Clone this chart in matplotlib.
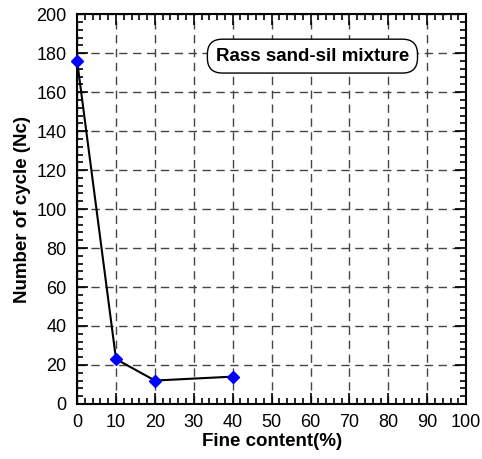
import numpy as np
import matplotlib.pyplot as plt
from matplotlib.ticker import MultipleLocator

plt.rcParams['font.family'] = ['Liberation Sans', 'DejaVu Sans']

# data
fines = [0, 10, 20, 40]
cycles = [176, 23, 12, 14]

fig = plt.figure(figsize=(4.82, 4.59), dpi=100)
ax = fig.add_axes([0.160, 0.120, 0.807, 0.849])

ax.plot(fines, cycles, color='black', lw=1.5, marker='D', ms=6,
        mfc='blue', mec='blue', zorder=5, clip_on=False)

ax.set_xlim(0, 100)
ax.set_ylim(0, 200)
ax.xaxis.set_major_locator(MultipleLocator(10))
ax.xaxis.set_minor_locator(MultipleLocator(2))
ax.yaxis.set_major_locator(MultipleLocator(20))
ax.yaxis.set_minor_locator(MultipleLocator(4))
ax.tick_params(which='both', direction='in', top=True, right=True, labelsize=13, width=1.2)
ax.tick_params(which='major', length=8, pad=7.5)
ax.tick_params(which='minor', length=4)
ax.grid(True, which='major', ls=(0, (6, 4)), color='#444444', lw=1)
for s in ax.spines.values():
    s.set_linewidth(1.5)

ax.set_xlabel('Fine content(%)', fontsize=13.5, fontweight='bold', labelpad=1)
ax.set_ylabel('Number of cycle (Nc)', fontsize=13.5, fontweight='bold', labelpad=4)

ax.text(60.5, 178.5, 'Rass sand-sil mixture', ha='center', va='center',
        fontsize=13.5, fontweight='bold',
        bbox=dict(boxstyle='round,pad=0.45,rounding_size=0.8', fc='white', ec='black', lw=1))

fig.savefig('out.png', dpi=100)
